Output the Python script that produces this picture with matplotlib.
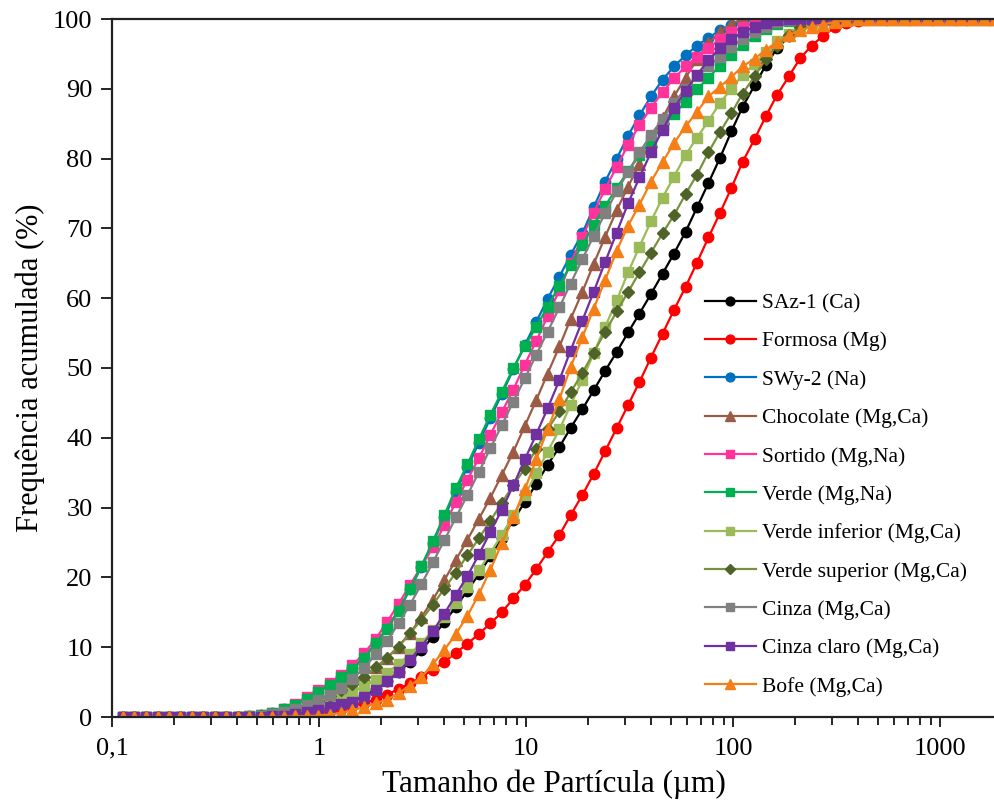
import numpy as np
import matplotlib.pyplot as plt
from matplotlib.ticker import FixedLocator, FuncFormatter, LogLocator, NullFormatter

plt.rcParams['font.family'] = ['Liberation Serif', 'DejaVu Serif']

# Particle size classes (um), laser diffraction
sizes = [0.113, 0.128, 0.146, 0.166, 0.188, 0.214, 0.243, 0.276, 0.314, 0.357,
         0.405, 0.460, 0.523, 0.594, 0.675, 0.767, 0.872, 0.991, 1.13, 1.28,
         1.45, 1.65, 1.88, 2.13, 2.42, 2.75, 3.12, 3.55, 4.03, 4.58,
         5.21, 5.92, 6.72, 7.64, 8.68, 9.86, 11.2, 12.7, 14.5, 16.4,
         18.7, 21.2, 24.1, 27.4, 31.1, 35.3, 40.1, 45.6, 51.8, 58.9,
         66.9, 76.0, 86.4, 98.1, 111, 127, 144, 163, 186, 211,
         240, 272, 310, 352, 400, 454, 516, 586, 666, 756,
         859, 976, 1110, 1260, 1430, 1630, 1850]

# cumulative values from class 11 (0.460 um) on; 0 before, 100 after
saz1 = [0, 0, 0.05, 0.1, 0.15, 0.3, 0.6, 1.0, 1.5, 2.2, 3.0, 4.0, 5.1, 6.4, 7.9, 9.6,
        11.5, 13.6, 15.8, 18.1, 20.5, 23.0, 25.6, 28.2, 30.8, 33.4, 36.1, 38.7, 41.4,
        44.1, 46.8, 49.6, 52.3, 55.1, 57.8, 60.6, 63.5, 66.4, 69.5, 73.0, 76.5, 80.1,
        83.9, 87.4, 90.5, 93.4, 95.8, 97.5, 98.8, 99.5, 99.9]
formosa = [0, 0.05, 0.1, 0.2, 0.3, 0.45, 0.65, 0.9, 1.2, 1.6, 2.0, 2.5, 3.2, 4.0, 4.8,
           5.7, 6.8, 7.9, 9.2, 10.5, 11.9, 13.4, 15.0, 17.0, 18.9, 21.2, 23.6, 26.1,
           28.9, 31.8, 34.8, 38.1, 41.4, 44.7, 48.0, 51.5, 54.9, 58.3, 61.6, 65.1, 68.7,
           72.2, 75.8, 79.5, 82.8, 86.1, 89.1, 91.8, 94.4, 96.2, 97.6, 98.8, 99.4, 99.7]
swy2 = [0.1, 0.3, 0.6, 1.1, 1.7, 2.6, 3.6, 4.6, 5.7, 7.0, 8.5, 10.6, 12.7, 15.3, 18.3,
        21.5, 25.0, 28.6, 32.3, 35.8, 39.3, 42.8, 46.3, 49.8, 53.3, 56.6, 59.9, 63.1,
        66.2, 69.3, 73.0, 76.7, 80.0, 83.3, 86.2, 88.9, 91.3, 93.2, 94.8, 96.2, 97.3,
        98.4, 99.1, 99.6, 99.9]
chocolate = [0, 0.1, 0.3, 0.6, 1.0, 1.6, 2.4, 3.2, 3.9, 4.8, 5.9, 7.1, 8.5, 10.1, 12.0,
             14.3, 16.8, 19.6, 22.5, 25.4, 28.4, 31.4, 34.7, 38.0, 41.7, 45.4, 49.2,
             53.1, 57.0, 60.9, 64.9, 68.8, 72.6, 76.0, 79.2, 82.5, 85.8, 88.9, 91.6,
             94.2, 96.5, 98.2, 99.3]
sortido = [0.1, 0.3, 0.6, 1.2, 1.9, 2.8, 3.8, 4.9, 6.0, 7.4, 9.1, 11.2, 13.6, 16.2, 18.9,
           21.6, 24.3, 27.5, 30.8, 34.0, 37.1, 40.4, 43.7, 46.9, 50.5, 53.9, 57.4, 61.2,
           65.0, 68.8, 72.2, 75.7, 78.8, 82.0, 84.8, 87.3, 89.5, 91.5, 93.2, 94.6, 95.9,
           97.1, 98.1, 98.9, 99.5, 99.8]
verde = [0.1, 0.3, 0.6, 1.1, 1.7, 2.6, 3.6, 4.6, 5.7, 6.9, 8.4, 10.6, 12.6, 15.2, 18.4,
         21.6, 25.2, 28.9, 32.8, 36.2, 39.8, 43.3, 46.6, 50.0, 53.1, 55.9, 58.8, 61.8,
         64.8, 67.6, 70.5, 73.2, 75.8, 78.2, 80.5, 82.6, 84.6, 86.4, 88.1, 89.9, 91.6,
         93.3, 94.9, 96.3, 97.5, 98.5, 99.3, 99.7, 99.9]
verde_inf = [0, 0.05, 0.1, 0.25, 0.5, 0.9, 1.4, 2.2, 2.9, 3.6, 4.4, 5.3, 6.3, 7.6, 9.0,
             10.6, 12.4, 14.3, 16.4, 18.6, 21.0, 23.5, 26.1, 28.9, 31.8, 34.9, 38.0,
             41.2, 44.7, 48.3, 52.1, 55.9, 59.7, 63.7, 67.4, 71.0, 74.4, 77.4, 80.5,
             83.0, 85.4, 88.0, 90.0, 92.0, 93.6, 95.3, 96.8, 97.9, 98.8, 99.4, 99.8]
verde_sup = [0, 0.1, 0.3, 0.6, 1.0, 1.6, 2.3, 3.0, 3.8, 4.7, 5.8, 7.1, 8.4, 10.1, 12.0,
             13.9, 16.1, 18.4, 20.7, 23.2, 25.6, 28.1, 30.7, 33.2, 35.6, 38.4, 41.2,
             43.8, 46.5, 49.3, 52.2, 55.2, 58.1, 60.9, 63.7, 66.5, 69.3, 71.9, 74.9,
             77.7, 80.9, 83.8, 86.5, 89.3, 91.8, 94.3, 96.2, 97.7, 98.8, 99.5, 99.9]
cinza = [0.05, 0.15, 0.4, 0.7, 1.1, 1.7, 2.4, 3.2, 4.1, 5.5, 7.0, 9.0, 10.9, 13.4, 16.1,
         19.0, 22.2, 25.3, 28.6, 31.8, 35.1, 38.5, 41.8, 45.2, 48.5, 51.9, 55.2, 58.7,
         62.1, 65.6, 68.9, 72.2, 75.3, 78.1, 80.9, 83.4, 85.7, 88.0, 90.0, 91.8, 93.3,
         94.6, 96.0, 97.2, 98.2, 98.9, 99.5, 99.8]
cinza_claro = [0, 0.05, 0.1, 0.2, 0.4, 0.7, 1.0, 1.4, 1.8, 2.2, 2.8, 3.8, 5.1, 6.5, 8.2,
               10.1, 12.3, 14.8, 17.5, 20.2, 23.3, 26.5, 29.7, 33.2, 36.9, 40.5, 44.2,
               48.3, 52.5, 56.8, 60.9, 65.2, 69.4, 73.6, 77.3, 80.9, 84.1, 87.2, 89.7,
               92.0, 94.1, 95.8, 97.1, 98.1, 98.9, 99.4, 99.8]
bofe = [0, 0, 0.02, 0.05, 0.08, 0.12, 0.2, 0.35, 0.6, 1.0, 1.4, 2.0, 2.5, 3.4, 4.5, 5.7,
        7.6, 9.6, 11.9, 14.5, 17.6, 21.1, 24.9, 28.6, 32.6, 36.9, 41.2, 45.6, 50.1,
        54.4, 58.5, 62.6, 66.8, 70.4, 73.4, 76.7, 79.5, 82.2, 84.6, 86.7, 88.9, 90.3,
        91.7, 93.2, 94.3, 95.6, 96.7, 97.7, 98.4, 98.9, 99.2, 99.6, 99.8]

labels = ['SAz-1 (Ca)', 'Formosa (Mg)', 'SWy-2 (Na)', 'Chocolate (Mg,Ca)',
          'Sortido (Mg,Na)', 'Verde (Mg,Na)', 'Verde inferior (Mg,Ca)',
          'Verde superior (Mg,Ca)', 'Cinza (Mg,Ca)', 'Cinza claro (Mg,Ca)',
          'Bofe (Mg,Ca)']
series = [saz1, formosa, swy2, chocolate, sortido, verde, verde_inf, verde_sup,
          cinza, cinza_claro, bofe]
START = 11

# (line colour, marker, marker colour, marker size)
styles = [('#000000', 'o', '#000000', 7.5),
          ('#FF0000', 'o', '#FF0000', 7.5),
          ('#0070C0', 'o', '#0070C0', 7.5),
          ('#9C5B45', '^', '#9C5B45', 8),
          ('#FF3399', 's', '#FF3399', 7),
          ('#00B050', 's', '#00B050', 7),
          ('#9BBB59', 's', '#9BBB59', 7),
          ('#77933C', 'D', '#4F6228', 6),
          ('#808080', 's', '#808080', 7),
          ('#7030A0', 's', '#7030A0', 7),
          ('#F57F17', '^', '#F57F17', 8)]

x = np.array(sizes)
n = len(x)

fig = plt.figure(figsize=(9.95, 8.09), dpi=100)
ax = fig.add_axes([112 / 995, 1 - 717 / 809, 1 - 112 / 995, (717 - 19) / 809])

for vals, lab, (lc, mk, mc, ms) in zip(series, labels, styles):
    y = [0.0] * START + list(vals)
    y = y + [100.0] * (n - len(y))
    ax.plot(x, y, color=lc, lw=1.6, marker=mk, ms=ms, mfc=mc, mec=mc,
            label=lab, clip_on=True)

ax.set_xscale('log')
ax.set_xlim(0.1, 1840)
ax.set_ylim(0, 100)
ax.set_yticks(np.arange(0, 101, 10))
ax.xaxis.set_major_locator(FixedLocator([0.1, 1, 10, 100, 1000]))
ax.xaxis.set_major_formatter(FuncFormatter(lambda v, p: ('%g' % v).replace('.', ',')))
ax.xaxis.set_minor_locator(LogLocator(base=10, subs=np.arange(2, 10)))
ax.xaxis.set_minor_formatter(NullFormatter())

ax.tick_params(axis='both', which='both', direction='out', labelsize=19, width=1.2)
ax.tick_params(axis='y', length=8, pad=6)
ax.tick_params(axis='x', which='major', length=7, pad=8)
ax.tick_params(axis='x', which='minor', length=6)
ax.spines['right'].set_visible(False)
for s in ['left', 'bottom', 'top']:
    ax.spines[s].set_linewidth(1.6)
    ax.spines[s].set_color('#222222')

ax.set_xlabel('Tamanho de Partícula (µm)', fontsize=22.5, labelpad=7)
ax.set_ylabel('Frequência acumulada (%)', fontsize=22, labelpad=6)

leg = fig.legend(loc='upper left', bbox_to_anchor=(705 / 995, 1 - 293 / 809),
                 frameon=False, fontsize=15.5, handlelength=2.35, handletextpad=0.3,
                 labelspacing=0.85, borderpad=0, borderaxespad=0, markerscale=0.85)

fig.savefig('out.png', dpi=100)
